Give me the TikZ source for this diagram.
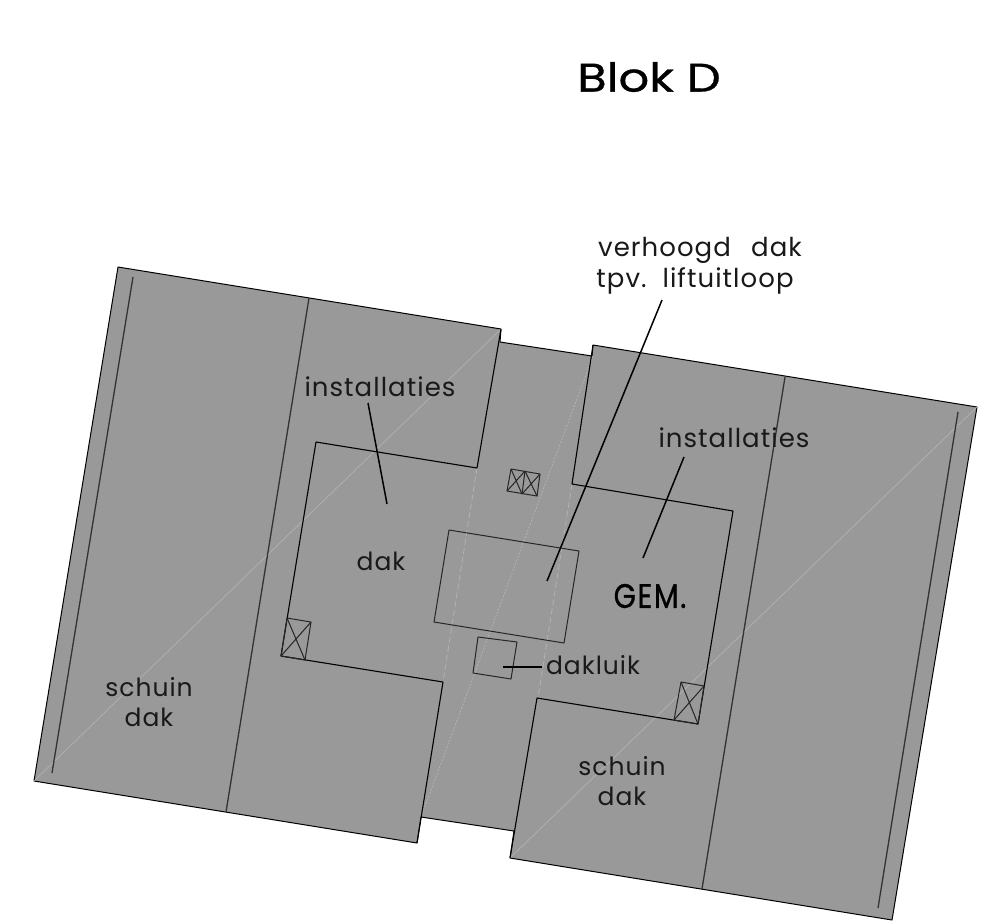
\documentclass[tikz,border=0pt]{standalone}
\usepackage{fontspec}
\setmainfont{Poppins}[LetterSpace=4.0]
\newfontfamily\titlefont{Poppins}[FakeStretch=1.2,FakeBold=0.7]
\newfontfamily\gemfont{Poppins}[FakeStretch=0.84,FakeBold=0.9,LetterSpace=5.0]
\usepackage{xcolor}
\definecolor{roofgray}{gray}{0.6}
\definecolor{wallgray}{gray}{0.2}
\definecolor{hipgray}{gray}{0.7}
\tikzset{
	roof/.style={draw=black,fill=roofgray,line width=1pt,line join=bevel},
	edge line/.style={draw=black,line width=1.1pt},
	wall/.style={draw=wallgray,line width=1.3pt},
	hip/.style={draw=hipgray,line width=0.7pt},
	hipdash/.style={draw=hipgray,line width=0.8pt,dash pattern=on 6pt off 3pt},
	hipdot/.style={draw=hipgray,line width=0.8pt,dash pattern=on 2pt off 1.5pt},
	leader/.style={draw=black,line width=1.5pt},
	thin box/.style={draw=black!85,line width=1pt},
	lbl/.style={font=\fontsize{26}{31}\selectfont,text=black!90,inner sep=0pt,align=center},
	lbl small/.style={font=\fontsize{25}{30}\selectfont,text=black!90,inner sep=0pt,align=center},
}
\begin{document}
\begin{tikzpicture}[x=1pt,y=-1pt,line join=bevel]
		\useasboundingbox (0,0) rectangle (992,922);
		%%
		% whole roof outline
		\path [roof] (118,267) -- (501,329) -- (500,342) -- (592,356) -- (593,345) -- (977,407) -- (892,920) -- (510,858) -- (514,831) -- (421,817) -- (417,843) -- (34,781) -- cycle;
		%
		% hips
		\draw [hip] (34,781) -- (501,329);
		\draw [hip] (510,858) -- (977,407);
		\draw [hipdot] (421,817) -- (593,356);
		\draw [hipdash] (477,468) -- (443,682);
		\draw [hipdash] (572,484) -- (538,698);
		%
		% left block
		\draw [edge line] (501,329) -- (477,468) -- (316,442) -- (281,656) -- (443,682) -- (417,843);
		\draw [wall] (309,298) -- (226,812);
		\draw [wall] (133,277) -- (52,773);
		%
		% right block
		\draw [edge line] (593,345) -- (572,484) -- (733,511) -- (698,724) -- (537,698) -- (510,858);
		\draw [wall] (785,377) -- (702,889);
		\draw [wall] (958,412) -- (878,908);
		%
		% lift shaft and hatch
		\draw [thin box] (449,530) -- (579,551) -- (564,643) -- (434,622) -- cycle;
		\draw [thin box] (478,637) -- (517,642) -- (511,679) -- (473,673) -- cycle;
		%
		% vents
		\draw [thin box] (511,469) -- (540,474) -- (537,496) -- (507,491) -- cycle;
		\draw [thin box] (525,471) -- (522,494);
		\draw [thin box] (511,469) -- (522,494) (525,471) -- (507,491);
		\draw [thin box] (525,471) -- (537,496) (540,474) -- (522,494);
		\draw [thin box] (287,618) -- (311,622) -- (305,660) -- (281,656) -- cycle;
		\draw [thin box] (287,618) -- (305,660) (311,622) -- (281,656);
		\draw [thin box] (681,682) -- (704,686) -- (698,724) -- (674,720) -- cycle;
		\draw [thin box] (681,682) -- (698,724) (704,686) -- (674,720);
		%
		\node (title) at (649,77) [font=\titlefont\fontsize{40}{42}\selectfont,inner sep=0pt] {Blok D};
		\node (lift a) at (700,250) [lbl] {verhoogd\ \ \,dak};
		\node (lift b) at (695,281) [lbl] {tpv.\ \ liftuitloop};
		\node (instl) at (380,387) [lbl] {installaties};
		\node (instr) at (734,438) [lbl] {installaties};
		\node (dakm) at (381,561) [lbl small] {dak};
		\node (gem) at (650,596) [font=\gemfont\fontsize{34}{36}\selectfont,inner sep=0pt] {GEM.};
		\node (luik) at (593,665) [lbl small] {dakluik};
		\node (schuinl) at (149,702) [lbl small] {schuin\\dak};
		\node (schuinr) at (622,781) [lbl small] {schuin\\dak};
		%
		\coordinate (instl end) at (387,504);
		\coordinate (instl start) at (368,403);
		\coordinate (instr end) at (643,558);
		\coordinate (instr start) at (684,457);
		\coordinate (lift end) at (547,581);
		\coordinate (lift start) at (662,300);
		\coordinate (luik end) at (503,667);
		\coordinate (luik start) at (542,667);
		\draw [leader] (instl start) -- (instl end);
		\draw [leader] (instr start) -- (instr end);
		\draw [leader] (lift start) -- (lift end);
		\draw [leader] (luik start) -- (luik end);
		%
	\end{tikzpicture}
\end{document}
